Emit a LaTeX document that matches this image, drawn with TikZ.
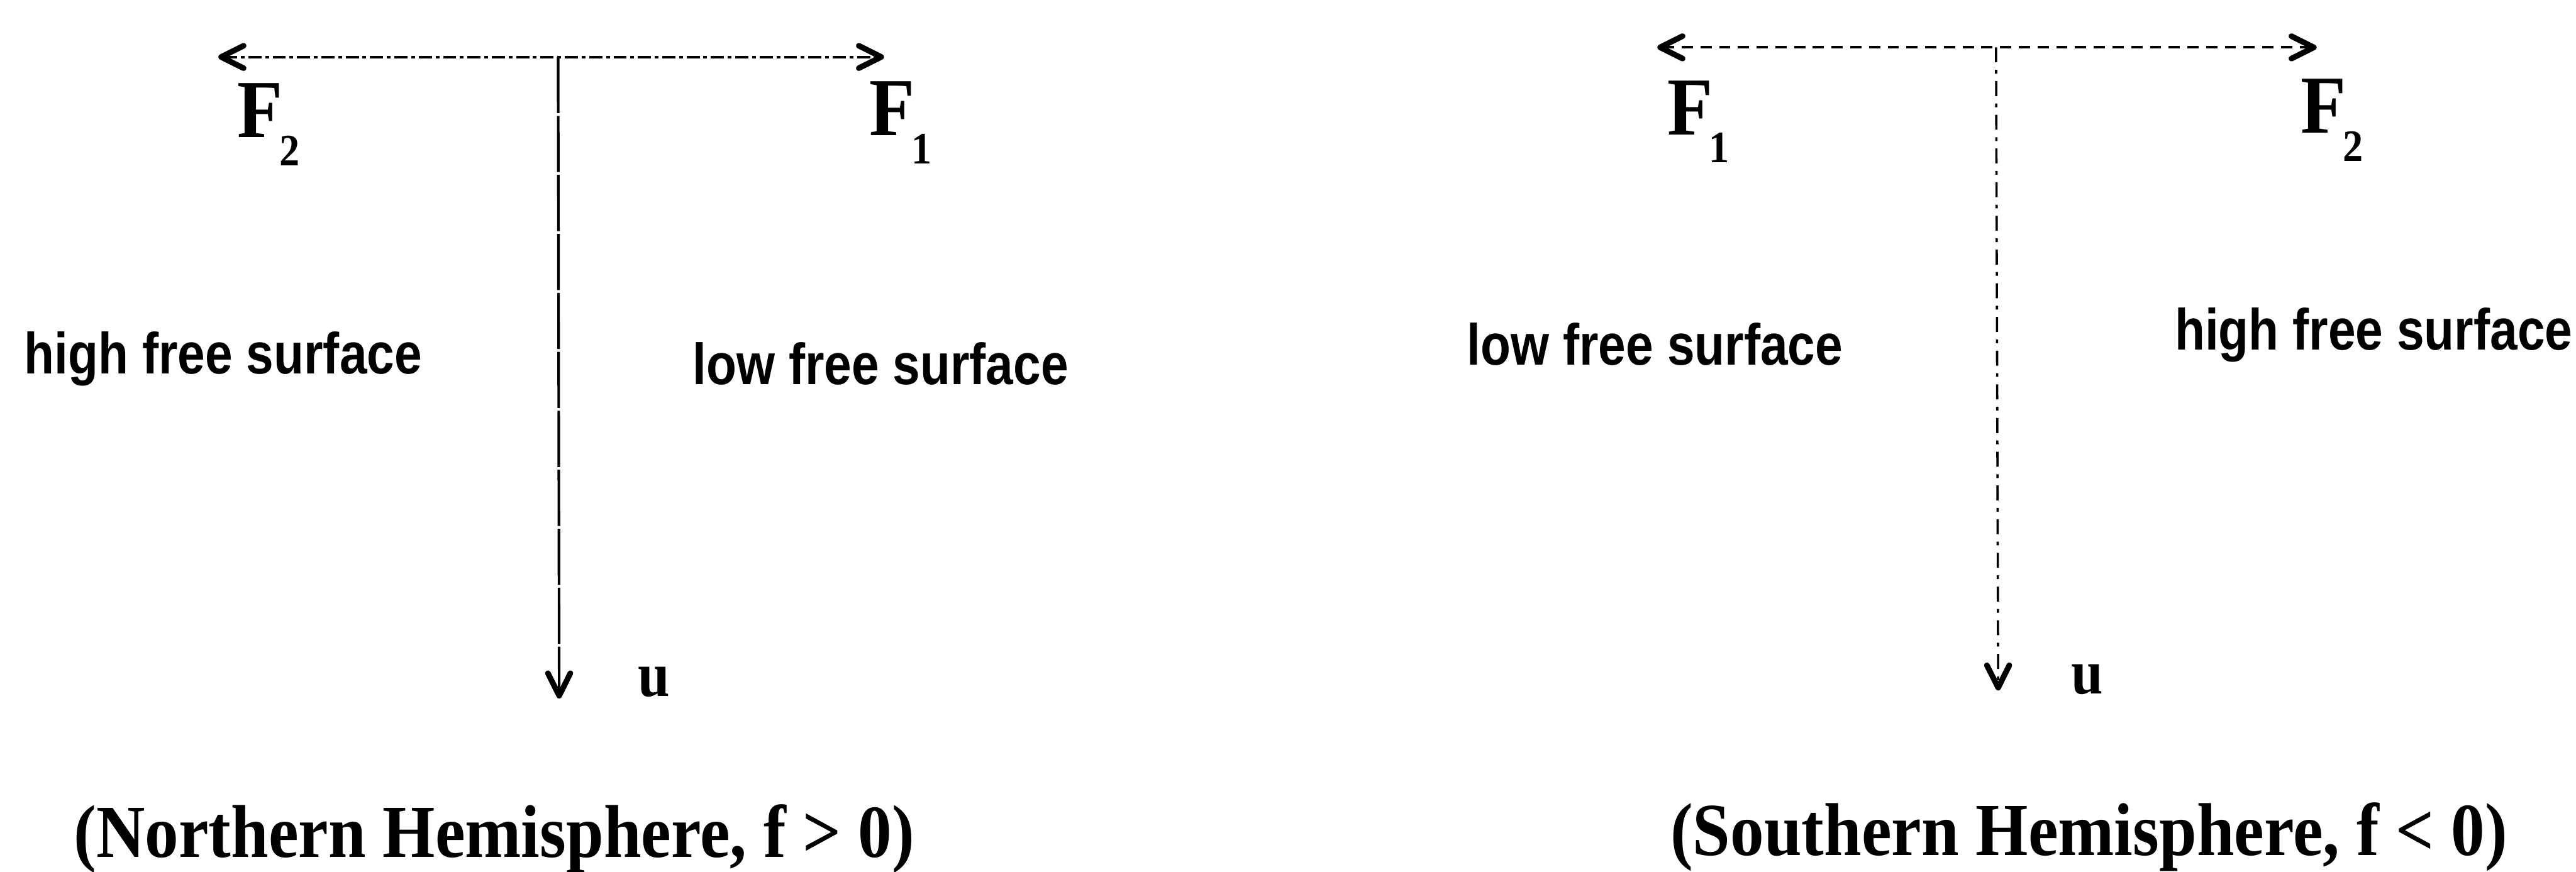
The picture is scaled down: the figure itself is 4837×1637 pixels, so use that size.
\documentclass[tikz,border=0pt]{standalone}
\usepackage{fontspec}
\usetikzlibrary{arrows.meta}
\newfontfamily\serifbf{Liberation Serif}[FakeStretch=0.9]
\newfontfamily\sansbf{Liberation Sans}[FakeStretch=0.85]
\newcommand\Fsub[1]{F\kern-0.04em\raisebox{-0.34em}{\fontsize{24}{28}\selectfont #1}}
\begin{document}
\begin{tikzpicture}[x=0.01cm,y=-0.01cm,
  captext/.style={anchor=base west,inner sep=0pt,font=\serifbf\bfseries\fontsize{40}{48}\selectfont},
  surf/.style={anchor=base west,inner sep=0pt,font=\sansbf\bfseries\fontsize{31}{37}\selectfont},
  flabel/.style={anchor=base west,inner sep=0pt,font=\serifbf\bfseries\fontsize{44}{52}\selectfont},
  ulabel/.style={anchor=base west,inner sep=0pt,font=\serifbf\bfseries\fontsize{34}{40}\selectfont},
  barb/.tip={Straight Barb[length=12pt,width=12pt,line width=3pt,round]},
  hconnA/.style={line width=1.4pt,dash pattern=on 7pt off 2pt on 2pt off 2pt,barb-barb},
  vconnA/.style={line width=1.4pt,dash pattern=on 30pt off 1.5pt,-barb},
  hconnB/.style={line width=1.3pt,dash pattern=on 6pt off 4pt,barb-barb},
  vconnB/.style={line width=1.2pt,dash pattern=on 8pt off 4pt on 2pt off 4pt,-barb},
]
\useasboundingbox (0,0) rectangle (4837,1637);

% ---- Northern Hemisphere ----
\coordinate (nL) at (410,107);
\coordinate (nR) at (1660,107);
\coordinate (nTop) at (1048,107);
\coordinate (nBot) at (1050,1312);
\draw[hconnA] (nL) -- (nR);
\draw[vconnA] (nTop) -- (nBot);
\node[flabel] (nF2) at (445,258) {\Fsub{2}};
\node[flabel] (nF1) at (1632,255) {\Fsub{1}};
\node[surf] (nHigh) at (45,702) {high free surface};
\node[surf] (nLow) at (1300,722) {low free surface};
\node[ulabel] (nU) at (1197,1308) {u};
\node[captext] (nCap) at (138,1610) {(Northern Hemisphere, f > 0)};

% ---- Southern Hemisphere ----
\coordinate (sL) at (3112,89);
\coordinate (sR) at (4350,89);
\coordinate (sTop) at (3748,89);
\coordinate (sBot) at (3752,1297);
\draw[hconnB] (sL) -- (sR);
\draw[vconnB] (sTop) -- (sBot);
\node[flabel] (sF1) at (3130,253) {\Fsub{1}};
\node[flabel] (sF2) at (4320,250) {\Fsub{2}};
\node[surf] (sLow) at (2754,685) {low free surface};
\node[surf] (sHigh) at (4083,657) {high free surface};
\node[ulabel] (sU) at (3888,1303) {u};
\node[captext] (sCap) at (3136,1607) {(Southern Hemisphere, f < 0)};
\end{tikzpicture}
\end{document}
